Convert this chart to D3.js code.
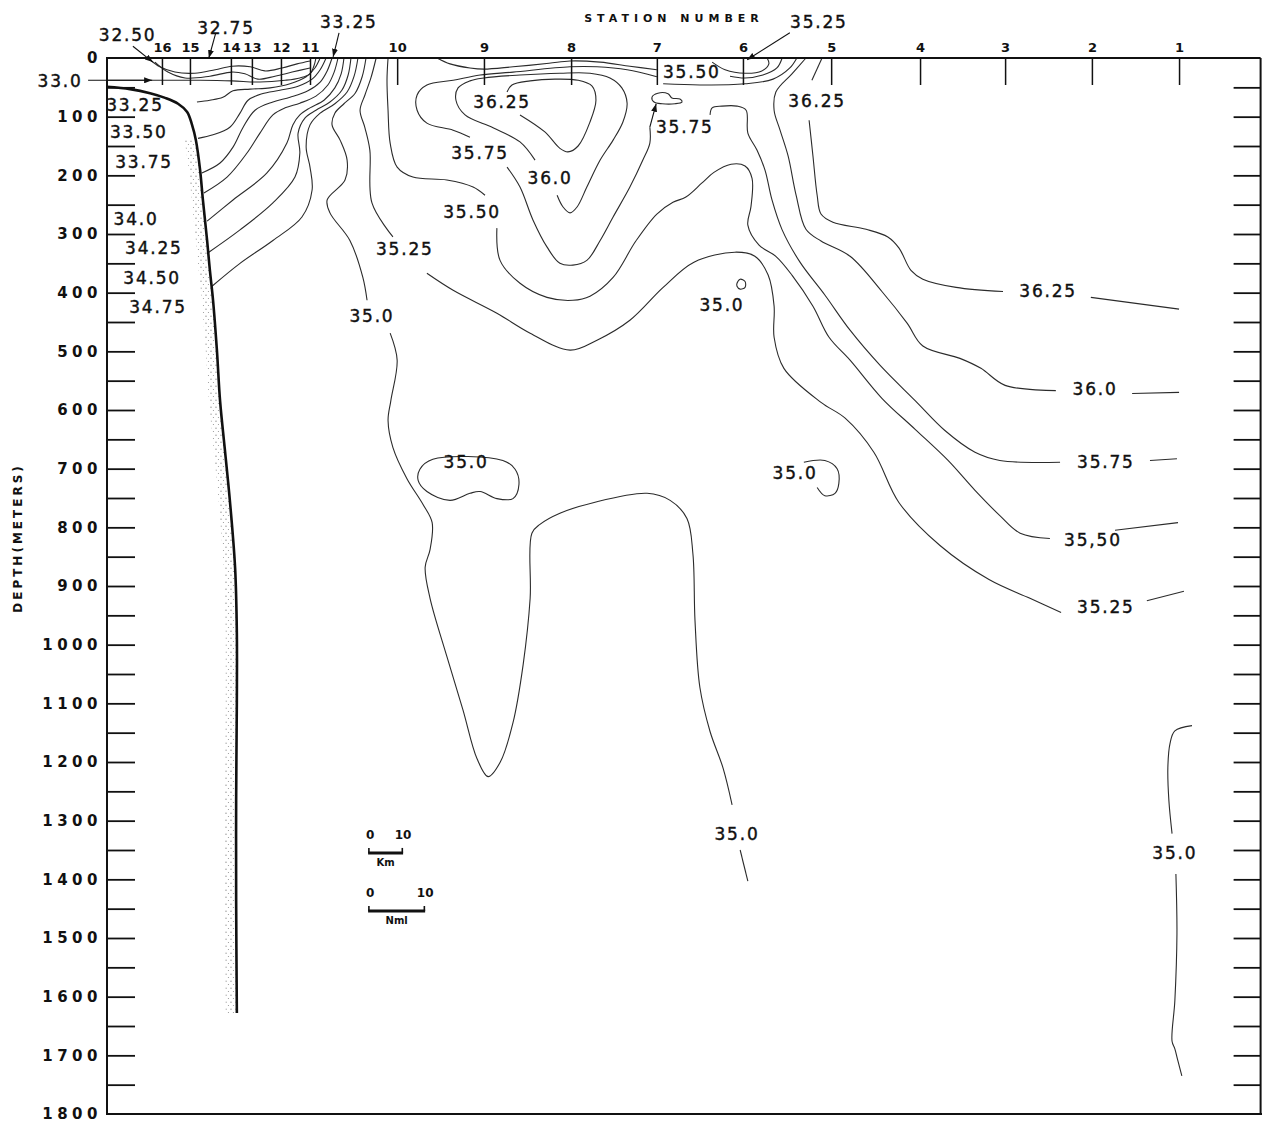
<!DOCTYPE html>
<html>
<head>
<meta charset="utf-8">
<script src="https://cdn.jsdelivr.net/npm/d3@7"></script>
<style>
  body { margin: 0; background: #fff; }
  svg { display: block; }
  .contour { fill: none; stroke: #2b2b2b; stroke-width: 1.1; }
  .seafloor { fill: none; stroke: #111; stroke-width: 2.6; }
  .frame { fill: none; stroke: #111; stroke-width: 2; }
  .tick line { stroke: #111; stroke-width: 1.8; }
  .lbl { font-family: "DejaVu Sans", sans-serif; font-size: 17px; letter-spacing: 1.8px; fill: #111; stroke: #111; stroke-width: 0.4px; }
  .axisnum text { font-family: "DejaVu Sans", sans-serif; font-size: 15px; font-weight: bold; letter-spacing: 4.5px; fill: #111; }
  .stn text { font-family: "DejaVu Sans", sans-serif; font-size: 13px; font-weight: bold; fill: #111; }
  .title { font-family: "DejaVu Sans", sans-serif; font-weight: bold; fill: #111; }
  .leader { stroke: #111; stroke-width: 1.1; fill: none; }
  .bar { stroke: #111; stroke-width: 3; fill: none; }
  .barcap { stroke: #111; stroke-width: 1.6; }
  .barTxt { font-family: "DejaVu Sans", sans-serif; font-weight: bold; fill: #111; }
</style>
</head>
<body>
<script>
// salinity section: distance along section (km) vs depth (m)

// stations along the top
var stationNames = ["16","15","14","13","12","11","10","9","8","7","6","5","4","3","2","1"];
var stationKm = [15.7,23.7,35.4,41.4,49.7,58,82.9,107.7,132.6,157.1,181.7,206.9,232.3,256.6,281.4,306.3];

// depth axis
var depthLabels = [0,100,200,300,400,500,600,700,800,900,1000,1100,1200,1300,1400,1500,1600,1700,1800];
var depthTicks = d3.range(50, 1800, 50);

// bottom profile [km, m]
var seafloor = [[0,49],[6.6,53],[12.3,60],[16.6,68],[20.3,78],[22.9,92],[24.3,114],[25.4,140],[26.6,191],
  [27.4,242],[28.6,311],[29.4,362],[30.3,413],[31.4,498],[32.3,584],[33.7,669],[35.1,754],[36.6,869],
  [37.1,981],[37.1,1095],[36.9,1266],[36.9,1437],[37.1,1628]];

// isohalines [km, m]
var s3250 = [[12.3,3],[15.1,15],[19.4,24],[25.1,26],[30.9,20],[35.7,14],[40.9,15],[45.1,22],[50,17],[54.3,10],[58,5]];
var s3275 = [[13.7,7],[17.4,24],[22.3,34],[29.4,31],[35.7,24],[39.4,27],[43.1,36],[48,31],[52.9,24],[58,17]];
var s3300 = [[0,38],[12.3,38],[26.6,38],[35.7,39],[43.7,41],[50.9,38],[55.1,34],[58,27],[59.1,14],[59.7,0]];
var s3325 = [[60.9,0],[59.4,17],[56.9,32],[52.3,44],[46.6,51],[40.9,53],[36,56],[33.1,67],[29.4,72],[25.7,75]];
var s3350 = [[62.6,0],[60.9,20],[58.6,36],[54.6,48],[49.4,55],[44.3,61],[40.3,72],[38,94],[35.1,118],[30.3,131],[26,137]];
var s3375 = [[64.3,0],[62.9,22],[60.9,41],[57.4,56],[52.3,67],[47.4,75],[42.3,89],[38.9,118],[36,152],[32.3,179],[27.1,196]];
var s3400 = [[66,0],[64.9,24],[63.1,46],[59.7,65],[55.1,77],[50.9,85],[47.4,97],[43.7,128],[40,162],[34.3,203],[27.7,230]];
var s3425 = [[67.7,0],[66.9,27],[65.1,51],[62,72],[58,85],[55.1,97],[53.1,114],[51.4,145],[45.7,196],[36,242],[28.6,278]];
var s3450 = [[69.7,0],[68.9,29],[67.1,55],[63.7,75],[59.7,89],[56.6,102],[54.6,128],[55.1,162],[53.7,203],[47.4,247],[38,293],[29.1,331]];
var s3475 = [[71.7,0],[70.6,31],[68.6,58],[65.1,78],[60.9,94],[58,114],[56.9,152],[58,186],[58.6,225],[55.7,271],[47.4,311],[38,350],[30,389]];

var s3500a = [[74,0],[72.9,32],[70.9,60],[67.7,78],[65.1,94],[64.3,114],[66.6,140],[68.6,174],[68,208],[62.9,242],[63.7,264],[69.4,311],[73.1,374],[74.3,413]];
var s3500b = [[80.9,469],[82.9,515],[81.1,584],[80.3,618],[81.7,664],[85.7,717],[90.3,761],[92.9,792],[92.3,838],[90.9,868],
  [92.3,921],[97.1,1020],[101.7,1111],[105.7,1194],[108.9,1225],[112.3,1201],[116,1133],[118.9,1034],[120.9,921],[121.4,810],
  [123.7,795],[129.4,776],[138.9,758],[154.3,742],[160.9,754],[165.7,785],[167.4,845],[168,959],[169.4,1073],[172.3,1148],[176,1210],[178.6,1273]];
var s3500c = [[180.9,1350],[183.1,1403]];
var s3500bubble = [[93.1,684],[89.4,701],[88.9,720],[91.4,739],[98,754],[103.7,742],[106.6,739],[111.4,751],[116,751],[117.7,727],[116.6,701],[113.1,686]];
var s3500hook = [[199.1,689],[205.1,686],[208.6,700],[209.1,725],[208,742],[205.1,746],[202.9,732]];
var s3500dot = [[180,384],[180.9,377],[182.3,381],[182.3,391],[180.9,394],[180,389]];
var s3500east1 = [[310,1138],[305.1,1147],[303.7,1169],[303.1,1210],[303.4,1266],[304.3,1322]];
var s3500east2 = [[305.4,1391],[305.7,1493],[305.1,1607],[304.3,1676],[305.1,1689],[306,1710],[307.1,1735]];

var s3525a = [[76.9,0],[75.4,34],[73.7,63],[72.3,89],[73.7,119],[75.1,157],[75.7,247],[81.7,305]];
var s3525b = [[91.4,367],[98.9,396],[111.4,435],[120.9,469],[132.3,498],[140,481],[149.4,447],[158.9,391],[167.7,348],
  [179.4,331],[185.1,338],[188.9,370],[190.6,423],[190.6,476],[193.4,529],[204,587],[210.9,614],[219.1,672],[226.3,758],
  [238,831],[252,889],[263.7,921],[272.6,945]];
var s3525c = [[297.1,925],[307.7,909]];
var s3525surf = [[172.9,7],[176.6,20],[182.3,26],[187.1,22],[189.1,10],[188.6,0]];

var s3550a = [[80.3,0],[80,38],[80.3,89],[80.9,145],[82.9,186],[87.4,203],[97.1,208],[104.6,220],[108,234]];
var s3550b = [[111.4,290],[112.3,345],[118,384],[125.7,408],[133.1,413],[138,406],[144.6,374],[151.1,312],[157.1,266],
  [161.7,246],[165.4,237],[170,213],[173.4,195],[178.3,181],[182.3,184],[184.3,205],[184,253],[183.1,285],[186.3,319],
  [191.1,338],[195.7,370],[201.7,423],[206.3,476],[212.3,515],[221.4,580],[230.9,633],[240.3,686],[248,737],[255.1,780],
  [260.9,810],[269.4,819]];
var s3550c = [[288,805],[306,792]];
var s3550surf = [[94.3,0],[98,10],[103.7,17],[107.7,19],[116,15],[126.3,9],[132.3,5],[140.9,7],[149.4,14],[157.1,20]];
var s3550cap = [[178,31],[182.3,34],[187.4,29],[191.4,17],[192.9,0]];

var s3575a = [[157.1,32],[148.6,20],[140,15],[132.3,15],[116,24],[106.6,29],[98.9,38],[91.4,46],[88.6,63],[88.6,89],[91.4,111],[98.9,123],[103.7,135]];
var s3575b = [[114.3,186],[118,220],[121.7,276],[125.7,322],[129.4,350],[133.1,353],[137.1,345],[140.9,311],[144.6,271],[149.4,220],[153.1,174],[155.1,145],[155.1,118]];
var s3575c = [[172.3,97],[172.9,85],[175.7,82],[180,82],[182.6,89],[183.1,128],[185.7,157],[188,191],[190,242],[192.9,293],
  [198,348],[205.1,404],[212.3,464],[220.9,524],[230.9,584],[239.4,635],[248,672],[255.1,686],[272.3,689]];
var s3575d = [[298,686],[305.7,683]];
var s3575cap = [[158.9,44],[169.4,46],[182.3,44],[190.3,36],[195.1,17],[197.1,0]];
var s3575patch = [[155.7,67],[157.4,60],[160.3,61],[161.4,68],[163.7,70],[164.3,75],[162.3,78],[158.6,78],[156.3,75]];

var s3600a = [[122.3,174],[118,143],[110.3,119],[102.3,97],[99.7,72],[100.3,51],[103.7,39],[107.7,34],[118,29],[129.4,26],
  [138,26],[143.7,34],[147.1,51],[148.6,77],[147.4,109],[144.6,140],[140.9,174],[137.1,220],[134.3,254],[132.3,264],[130.3,254],[128.6,234]];
var s3600b = [[199.7,0],[195.7,27],[191.1,58],[190.6,89],[192.3,123],[194.6,167],[196.9,234],[199.7,292],[204,312],[212.3,338],
  [221.4,398],[228.6,452],[233.1,491],[243.7,512],[249.7,529],[256.6,558],[271.1,567]];
var s3600c = [[292.9,572],[306.3,570]];

var s3625a = [[114.3,58],[115.7,46],[120.9,39],[128,36],[134.6,38],[138.6,48],[139.7,72],[138,109],[134.6,150],[131.7,160],[129.4,154],[125.1,126],[118,97]];
var s3625b = [[204.3,0],[201.4,38]];
var s3625c = [[200.6,106],[201.7,167],[202.9,234],[204,266],[207.4,280],[216.9,292],[223.1,305],[226.3,324],[229.7,362],[233.1,377],[242.6,391],[256,398]];
var s3625d = [[281.1,408],[306.3,428]];

var openLines = [s3250,s3275,s3300,s3325,s3350,s3375,s3400,s3425,s3450,s3475,
  s3500a,s3500b,s3500c,s3500hook,s3500east1,s3500east2,
  s3525a,s3525b,s3525c,s3525surf,s3550a,s3550b,s3550c,s3550surf,s3550cap,
  s3575a,s3575b,s3575c,s3575d,s3575cap,s3600a,s3600b,s3600c,s3625a,s3625b,s3625c,s3625d];
var closedLines = [s3500bubble, s3500dot, s3575patch];

// isohaline labels
var labelText = ["32.50","32.75","33.25","33.0","33.25","33.50","33.75","34.0","34.25","34.50","34.75",
  "35.0","35.25","35.50","35.75","36.0","36.25","35.50","35.75","36.25","35.25","35.0",
  "36.25","36.0","35.75","35,50","35.25","35.0","35.0","35.0","35.0"];
var labelKm = [5.9,34,69.1,-13.4,8,9.1,10.6,8.3,13.4,12.9,14.6,
  75.7,85.1,104.3,106.6,126.6,112.9,167.1,165.1,202.9,203.4,175.7,
  268.9,282.3,285.4,281.7,285.4,102.6,196.6,180,305.1];
var labelDepth = [-39,-51,-61,39,80,126,177,275,324,375,425,
  440,326,263,162,205,75,24,118,73,-61,421,
  398,565,689,821,935,689,708,1322,1355];

// leader arrows [fromKm, fromM, toKm, toM]
var leaders = [[7.4,-20,13.1,7],[31,-41,29.1,0],[66.3,-43,64.6,-2],[-5.4,38,12.9,38],[195.1,-43,182.9,3],[155.1,118,156.9,78]];

// scale bars: start km, length km, depth m
var barNames = ["Km","Nml"];
var barStartKm = [74.6,74.6];
var barLengthKm = [10,16.3];
var barDepth = [1355,1454];

var svg = d3.select("body").append("svg").attr("width", 1262).attr("height", 1126);

var x = d3.scaleLinear().domain([0, 330]).range([107, 1262]);
var y = d3.scaleLinear().domain([0, 1800]).range([58, 1114]);

var defs = svg.append("defs");
var pat = defs.append("pattern").attr("id", "dots").attr("patternUnits", "userSpaceOnUse")
  .attr("width", 5).attr("height", 7);
pat.append("circle").attr("cx", 1).attr("cy", 1.2).attr("r", 0.6).attr("fill", "#444");
pat.append("circle").attr("cx", 3.4).attr("cy", 4.6).attr("r", 0.5).attr("fill", "#555");
defs.append("marker").attr("id", "arrow").attr("viewBox", "0 0 8 6")
  .attr("refX", 8).attr("refY", 3).attr("markerWidth", 8).attr("markerHeight", 6)
  .attr("markerUnits", "userSpaceOnUse").attr("orient", "auto")
  .append("path").attr("d", "M0,0L8,3L0,6z").attr("fill", "#111");

var line = d3.line().x(function(d) { return x(d[0]); }).y(function(d) { return y(d[1]); })
  .curve(d3.curveCatmullRom.alpha(0.5));
var loop = d3.line().x(function(d) { return x(d[0]); }).y(function(d) { return y(d[1]); })
  .curve(d3.curveCatmullRomClosed.alpha(0.5));
var straight = d3.line().x(function(d) { return x(d[0]); }).y(function(d) { return y(d[1]); });

// stippled slope
var deep = seafloor.filter(function(d) { return d[1] >= 140; });
var band = deep.concat(deep.slice().reverse().map(function(d) { return [d[0] - 3.2, d[1]]; }));
svg.append("path").attr("d", straight(band) + "Z").attr("fill", "url(#dots)").attr("opacity", 0.75);

// isohalines
svg.selectAll(".open").data(openLines).enter().append("path")
  .attr("class", "contour").attr("d", line);
svg.selectAll(".closed").data(closedLines).enter().append("path")
  .attr("class", "contour").attr("d", loop);

// bottom profile
svg.append("path").attr("class", "seafloor").attr("d", line(seafloor));

// frame
svg.append("path").attr("class", "frame")
  .attr("d", straight([[329.6, 0], [0, 0], [0, 1800], [330, 1800]]));
svg.append("path").attr("class", "frame")
  .attr("d", straight([[329.6, 0], [329.6, 1800]]));

// depth ticks, both sides
svg.append("g").attr("transform", "translate(" + x(0) + ",0)")
  .call(d3.axisRight(y).tickValues(depthTicks).tickSize(28).tickFormat(""))
  .call(function(g) { g.select(".domain").remove(); });
svg.append("g").attr("transform", "translate(" + x(329.6) + ",0)")
  .call(d3.axisLeft(y).tickValues(depthTicks).tickSize(27).tickFormat(""))
  .call(function(g) { g.select(".domain").remove(); });
svg.append("g").attr("class", "axisnum").attr("transform", "translate(" + x(0) + ",0)")
  .call(d3.axisLeft(y).tickValues(depthLabels).tickSize(0).tickPadding(5).tickFormat(d3.format("d")))
  .call(function(g) { g.select(".domain").remove(); });

// station ticks and numbers
svg.append("g").attr("transform", "translate(0," + y(0) + ")")
  .call(d3.axisBottom(x).tickValues(stationKm).tickSize(27).tickFormat(""))
  .call(function(g) { g.select(".domain").remove(); g.selectAll("line").style("stroke-width", 1.5); });
svg.append("g").attr("class", "stn").attr("transform", "translate(0," + y(0) + ")")
  .call(d3.axisTop(x).tickValues(stationKm).tickSize(0).tickPadding(6)
    .tickFormat(function(d, i) { return stationNames[i]; }))
  .call(function(g) { g.select(".domain").remove(); });

// axis titles
svg.append("text").attr("class", "title").attr("x", 674).attr("y", 22)
  .attr("text-anchor", "middle").style("font-size", "11px").style("letter-spacing", "5px").text("STATION NUMBER");
svg.append("text").attr("class", "title")
  .attr("transform", "translate(22,538) rotate(-90)")
  .attr("text-anchor", "middle").style("font-size", "12px").style("letter-spacing", "3px").text("DEPTH(METERS)");

// leader arrows
svg.selectAll(".leader").data(leaders).enter().append("line")
  .attr("class", "leader")
  .attr("x1", function(d) { return x(d[0]); }).attr("y1", function(d) { return y(d[1]); })
  .attr("x2", function(d) { return x(d[2]); }).attr("y2", function(d) { return y(d[3]); })
  .attr("marker-end", "url(#arrow)");

// isohaline labels
svg.selectAll(".lbl").data(labelText).enter().append("text")
  .attr("class", "lbl")
  .attr("x", function(d, i) { return x(labelKm[i]); })
  .attr("y", function(d, i) { return y(labelDepth[i]); })
  .attr("text-anchor", "middle").attr("dominant-baseline", "central")
  .text(function(d) { return d; });

// scale bars
barNames.forEach(function(name, i) {
  var x0 = x(barStartKm[i]), x1 = x(barStartKm[i] + barLengthKm[i]), yb = y(barDepth[i]);
  svg.append("line").attr("class", "bar").attr("x1", x0).attr("x2", x1).attr("y1", yb).attr("y2", yb);
  svg.append("line").attr("class", "barcap").attr("x1", x0 + 0.8).attr("x2", x0 + 0.8).attr("y1", yb).attr("y2", yb - 5);
  svg.append("line").attr("class", "barcap").attr("x1", x1 - 0.8).attr("x2", x1 - 0.8).attr("y1", yb).attr("y2", yb - 5);
  svg.append("text").attr("class", "barTxt").attr("x", x0 + 2).attr("y", yb - 14)
    .attr("text-anchor", "middle").style("font-size", "12px").text("0");
  svg.append("text").attr("class", "barTxt").attr("x", x1).attr("y", yb - 14)
    .attr("text-anchor", "middle").style("font-size", "12px").text("10");
  svg.append("text").attr("class", "barTxt").attr("x", (x0 + x1) / 2).attr("y", yb + 13)
    .attr("text-anchor", "middle").style("font-size", "10px").text(name);
});
</script>
</body>
</html>
